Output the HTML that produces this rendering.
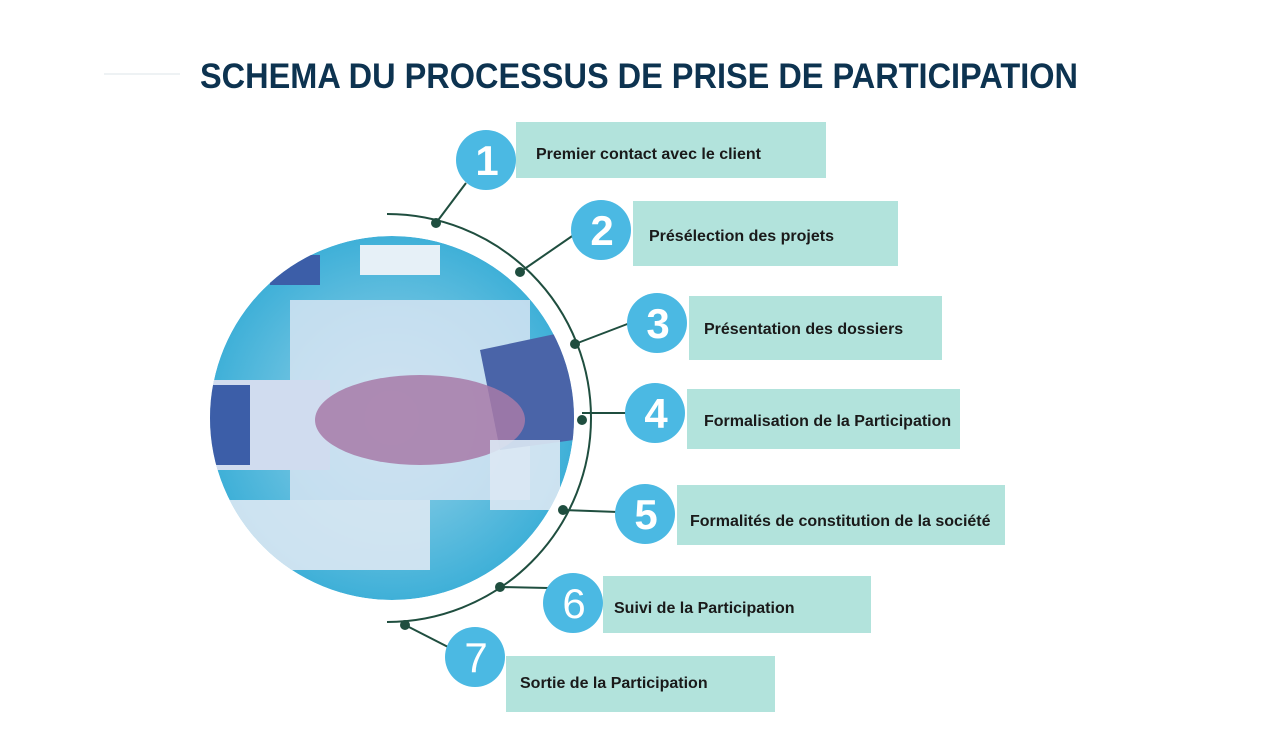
<!DOCTYPE html>
<html><head><meta charset="utf-8"><style>
html,body{margin:0;padding:0;background:#fff;width:1276px;height:731px;overflow:hidden}
</style></head><body>
<svg width="1276" height="731" viewBox="0 0 1276 731" xmlns="http://www.w3.org/2000/svg">
<defs>
<radialGradient id="bg" cx="0.5" cy="0.5" r="0.5">
<stop offset="0" stop-color="#9fd6ea"/><stop offset="1" stop-color="#3fb0d8"/>
</radialGradient>
<clipPath id="cc"><circle cx="392" cy="418" r="182"/></clipPath>
</defs>
<line x1="104" y1="74" x2="180" y2="74" stroke="#eef2f4" stroke-width="2"/>
<text x="639" y="88" text-anchor="middle" font-family="Liberation Sans, sans-serif" font-weight="bold" font-size="35" fill="#0d3350" textLength="878" lengthAdjust="spacingAndGlyphs">SCHEMA DU PROCESSUS DE PRISE DE PARTICIPATION</text>

<g clip-path="url(#cc)">
<circle cx="392" cy="418" r="182" fill="url(#bg)"/>
<rect x="290" y="300" width="240" height="200" fill="#d6e4f2" opacity="0.85"/>
<rect x="200" y="380" width="130" height="90" fill="#d0dcef"/>
<rect x="200" y="385" width="50" height="80" fill="#3c5ea8"/>
<polygon points="480,350 574,330 574,440 500,450" fill="#4a64a8"/>
<ellipse cx="420" cy="420" rx="105" ry="45" fill="#a77aa8" opacity="0.85"/>
<rect x="230" y="500" width="200" height="70" fill="#dce8f3" opacity="0.9"/>
<rect x="490" y="440" width="70" height="70" fill="#dce8f3" opacity="0.9"/>
<rect x="360" y="245" width="80" height="30" fill="#e6f0f7"/>
<rect x="270" y="255" width="50" height="30" fill="#3c5ea8"/>
</g>

<path d="M387 214 A204 204 0 0 1 387 622" fill="none" stroke="#1f4e3f" stroke-width="2"/>
<g stroke="#1f4e3f" stroke-width="2">
<line x1="436" y1="223" x2="466" y2="183"/>
<line x1="520" y1="272" x2="578" y2="232"/>
<line x1="575" y1="344" x2="630" y2="323"/>
<line x1="582" y1="413" x2="628" y2="413"/>
<line x1="563" y1="510" x2="618" y2="512"/>
<line x1="500" y1="587" x2="548" y2="588"/>
<line x1="405" y1="625" x2="450" y2="648"/>
</g>
<g fill="#1f4e3f">
<circle cx="436" cy="223" r="5"/><circle cx="520" cy="272" r="5"/><circle cx="575" cy="344" r="5"/>
<circle cx="582" cy="420" r="5"/><circle cx="563" cy="510" r="5"/><circle cx="500" cy="587" r="5"/><circle cx="405" cy="625" r="5"/>
</g>

<g fill="#b2e3dc">
<rect x="516" y="122" width="310" height="56"/>
<rect x="633" y="201" width="265" height="65"/>
<rect x="689" y="296" width="253" height="64"/>
<rect x="687" y="389" width="273" height="60"/>
<rect x="677" y="485" width="328" height="60"/>
<rect x="603" y="576" width="268" height="57"/>
<rect x="506" y="656" width="269" height="56"/>
</g>
<g fill="#4bb9e3">
<circle cx="486" cy="160" r="30"/><circle cx="601" cy="230" r="30"/><circle cx="657" cy="323" r="30"/>
<circle cx="655" cy="413" r="30"/><circle cx="645" cy="514" r="30"/><circle cx="573" cy="603" r="30"/><circle cx="475" cy="657" r="30"/>
</g>
<g fill="#fff" font-family="Liberation Sans, sans-serif" font-size="42" text-anchor="middle" font-weight="bold">
<text x="487" y="175">1</text><text x="602" y="245">2</text><text x="658" y="338">3</text>
<text x="656" y="428">4</text><text x="646" y="529">5</text>
<text x="574" y="618" font-weight="normal">6</text><text x="476" y="672" font-weight="normal">7</text>
</g>
<g fill="#1a1a1a" font-family="Liberation Sans, sans-serif" font-size="16" font-weight="bold">
<text x="536" y="159">Premier  contact avec le client</text>
<text x="649" y="241">Présélection des projets</text>
<text x="704" y="334">Présentation des dossiers</text>
<text x="704" y="426">Formalisation de la Participation</text>
<text x="690" y="526">Formalités de constitution de la société</text>
<text x="614" y="613">Suivi de la Participation</text>
<text x="520" y="688">Sortie de la Participation</text>
</g>
</svg>
</body></html>
